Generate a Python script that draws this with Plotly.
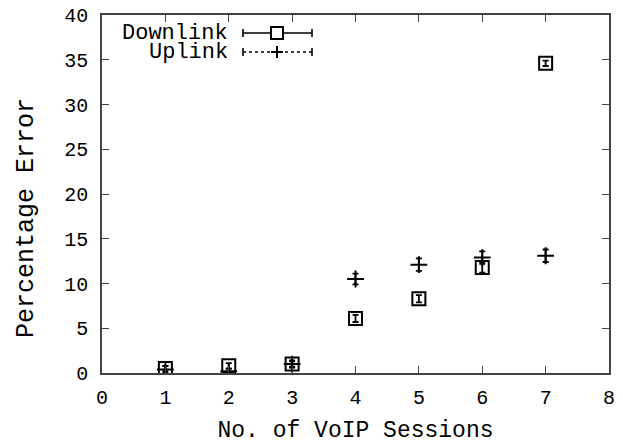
import plotly.graph_objects as go

sessions = [1, 2, 3, 4, 5, 6, 7]
downlink = [0.5, 0.8, 1.0, 6.1, 8.3, 11.8, 34.6]
downlink_err = [0.3, 0.3, 0.3, 0.4, 0.4, 0.6, 0.3]
uplink = [0.4, 0.2, 1.0, 10.5, 12.1, 12.9, 13.1]
uplink_err = [0.4, 0.3, 0.4, 0.6, 0.7, 0.7, 0.7]

x_ticks = [0, 1, 2, 3, 4, 5, 6, 7, 8]
y_ticks = [0, 5, 10, 15, 20, 25, 30, 35, 40]

FONT = "Liberation Mono, Courier New, monospace"
INK = "#000000"

fig = go.Figure()
fig.add_trace(go.Scatter(
    x=sessions, y=downlink, mode="markers", name="Downlink",
    marker=dict(symbol="square-open", size=13, color=INK, line=dict(width=2, color=INK)),
    error_y=dict(type="data", array=downlink_err, visible=True, color=INK, thickness=1.8, width=3),
    showlegend=False,
))
fig.add_trace(go.Scatter(
    x=sessions, y=uplink, mode="markers", name="Uplink",
    marker=dict(symbol="cross-thin", size=12, color=INK, line=dict(width=2, color=INK)),
    error_y=dict(type="data", array=uplink_err, visible=True, color=INK, thickness=1.8, width=3),
    showlegend=False,
))

# plot area in pixels
L, R, T, B = 102, 609, 15, 373
def px(x):
    return (x - L) / (R - L)
def py(y):
    return (B - y) / (B - T)

shapes = []
# custom legend (text left, sample right, as in gnuplot)
for yy, dash in [(33, "solid"), (52, "dot")]:
    shapes.append(dict(type="line", xref="paper", yref="paper", x0=px(243), x1=px(312), y0=py(yy), y1=py(yy),
                       line=dict(color=INK, width=1.6, dash=dash)))
    for xe in (243, 312):
        shapes.append(dict(type="line", xref="paper", yref="paper", x0=px(xe), x1=px(xe), y0=py(yy - 4), y1=py(yy + 4),
                           line=dict(color=INK, width=1.6)))
# square marker sample
shapes.append(dict(type="rect", xref="paper", yref="paper", x0=px(271), x1=px(283), y0=py(27), y1=py(39),
                   line=dict(color=INK, width=2), fillcolor="white"))
# plus marker sample
shapes.append(dict(type="line", xref="paper", yref="paper", x0=px(277), x1=px(277), y0=py(46), y1=py(58),
                   line=dict(color=INK, width=2)))
shapes.append(dict(type="line", xref="paper", yref="paper", x0=px(271), x1=px(283), y0=py(52), y1=py(52),
                   line=dict(color=INK, width=2)))

annotations = [
    dict(text="Downlink", xref="paper", yref="paper", x=px(230), y=py(33), xanchor="right", yanchor="middle",
         showarrow=False, font=dict(family=FONT, size=22, color=INK)),
    dict(text="Uplink", xref="paper", yref="paper", x=px(230), y=py(52), xanchor="right", yanchor="middle",
         showarrow=False, font=dict(family=FONT, size=22, color=INK)),
    dict(text="Percentage Error", xref="paper", yref="paper", x=px(27), y=py(218), xanchor="center",
         yanchor="middle", textangle=-90, showarrow=False, font=dict(family=FONT, size=25, color=INK)),
]

axis_common = dict(
    showgrid=False, zeroline=False, showline=True, linecolor="#444444", linewidth=1.5,
    mirror="ticks", ticks="inside", ticklen=7, tickwidth=1, tickcolor="#444444",
    tickfont=dict(family=FONT, size=20, color=INK), automargin=False,
)

fig.update_layout(
    width=623, height=444,
    margin=dict(l=L, r=623 - R, t=T, b=444 - B),
    paper_bgcolor="white", plot_bgcolor="white",
    font=dict(family=FONT, size=20, color=INK),
    xaxis=dict(range=[0, 8], tickvals=x_ticks, ticklabelstandoff=5,
               title=dict(text="No. of VoIP Sessions", font=dict(family=FONT, size=23, color=INK), standoff=12),
               **axis_common),
    yaxis=dict(range=[0, 40], tickvals=y_ticks, ticklabelstandoff=8, **axis_common),
    shapes=shapes, annotations=annotations,
)

fig.write_html("out.html", config={"displayModeBar": False},
               post_script="document.body.style.margin='0';document.body.style.overflow='hidden';")
